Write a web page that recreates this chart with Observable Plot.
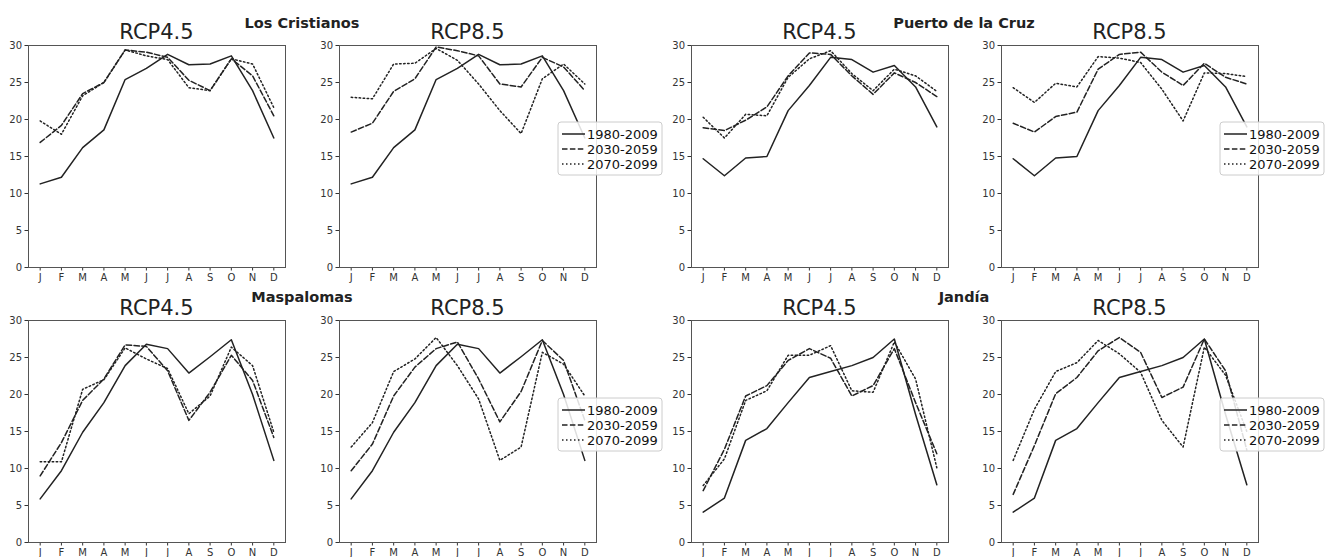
<!DOCTYPE html>
<html>
<head>
<meta charset="utf-8">
<script src="https://cdn.jsdelivr.net/npm/d3@7"></script>
<script src="https://cdn.jsdelivr.net/npm/@observablehq/plot@0.6"></script>
<style>
  html, body { margin: 0; padding: 0; background: #fff; }
  #root { position: relative; width: 1333px; height: 557px; overflow: hidden; font-family: "DejaVu Sans", sans-serif; }
  .panel { position: absolute; }
  #overlay { position: absolute; left: 0; top: 0; pointer-events: none; }
</style>
</head>
<body>
<div id="root"></div>
<script>
// ---------- data ----------
const months = ["J","F","M","A","M","J","J","A","S","O","N","D"];
const periods = ["1980-2009","2030-2059","2070-2099"];
const scenarios = ["RCP4.5","RCP8.5"];
const sites = ["Los Cristianos","Puerto de la Cruz","Maspalomas","Jandía"];

// Los Cristianos
const losCristianos_1980 = [11.3,12.2,16.2,18.6,25.4,26.9,28.8,27.4,27.5,28.6,23.9,17.5];
const losCristianos_45_2030 = [16.9,19.2,23.5,25.0,29.4,29.1,28.4,25.3,23.9,28.2,25.9,20.5];
const losCristianos_45_2070 = [19.8,18.0,23.2,25.0,29.4,28.6,28.1,24.3,23.9,28.2,27.5,21.6];
const losCristianos_85_2030 = [18.3,19.5,23.8,25.5,29.8,29.3,28.6,24.8,24.4,28.4,27.1,23.9];
const losCristianos_85_2070 = [23.0,22.8,27.5,27.6,29.6,28.0,24.8,21.2,18.1,25.5,27.5,24.8];

// Puerto de la Cruz
const puerto_1980 = [14.7,12.4,14.8,15.0,21.2,24.6,28.4,28.1,26.4,27.3,24.4,19.0];
const puerto_45_2030 = [18.9,18.5,19.9,21.7,25.9,29.0,28.8,25.9,23.4,26.3,25.0,23.1];
const puerto_45_2070 = [20.3,17.5,20.7,20.5,25.7,28.2,29.3,26.2,23.9,26.8,25.9,23.8];
const puerto_85_2030 = [19.5,18.3,20.4,21.0,26.8,28.8,29.1,26.4,24.6,27.6,25.7,24.8];
const puerto_85_2070 = [24.3,22.3,24.9,24.4,28.5,28.3,27.7,24.1,19.8,26.3,26.2,25.8];

// Maspalomas
const maspalomas_1980 = [5.9,9.7,14.9,18.9,23.9,26.8,26.2,22.9,25.1,27.4,20.0,11.1];
const maspalomas_45_2030 = [9.0,13.5,19.2,22.1,26.7,26.5,23.2,16.5,20.3,25.3,21.9,14.2];
const maspalomas_45_2070 = [10.9,10.9,20.7,22.0,26.3,24.8,23.5,17.4,19.8,26.4,23.9,14.9];
const maspalomas_85_2030 = [9.7,13.3,19.8,23.7,26.2,27.1,22.1,16.3,20.4,27.3,24.6,16.5];
const maspalomas_85_2070 = [12.9,16.2,23.1,24.8,27.7,23.9,19.4,11.1,12.9,25.7,24.1,19.8];

// Jandía
const jandia_1980 = [4.1,6.0,13.8,15.4,18.9,22.3,23.1,23.9,25.0,27.5,17.3,7.8];
const jandia_45_2030 = [7.0,12.6,19.8,21.2,24.6,26.2,24.9,19.8,21.2,26.2,18.9,12.0];
const jandia_45_2070 = [7.7,11.3,19.2,20.5,25.3,25.3,26.6,20.5,20.3,27.1,22.1,10.1];
const jandia_85_2030 = [6.5,13.1,20.1,22.3,25.9,27.7,25.7,19.6,21.0,27.5,23.2,12.5];
const jandia_85_2070 = [11.1,18.0,23.1,24.3,27.3,25.5,23.0,16.5,12.9,26.4,22.6,15.0];

const yTicks = [0,5,10,15,20,25,30];

// panel table built from the arrays
const panelData = [
  [losCristianos_1980, losCristianos_45_2030, losCristianos_45_2070],
  [losCristianos_1980, losCristianos_85_2030, losCristianos_85_2070],
  [puerto_1980, puerto_45_2030, puerto_45_2070],
  [puerto_1980, puerto_85_2030, puerto_85_2070],
  [maspalomas_1980, maspalomas_45_2030, maspalomas_45_2070],
  [maspalomas_1980, maspalomas_85_2030, maspalomas_85_2070],
  [jandia_1980, jandia_45_2030, jandia_45_2070],
  [jandia_1980, jandia_85_2030, jandia_85_2070]
];

// ---------- layout ----------
const frameLefts = [28, 339, 691, 1001];
const frameTops = [45, 320];
const FW = 257, FH = 222;
const ML = 30, MR = 6, MT = 5, MB = 28;
const dashes = [null, "5.5,2.4", "1.5,2.5"];
const root = document.getElementById("root");

panelData.forEach((series, i) => {
  const row = Math.floor(i / 4), col = i % 4;
  const rows = [];
  series.forEach((vals, s) => vals.forEach((v, m) => rows.push({m, v, period: periods[s]})));
  const chart = Plot.plot({
    width: FW + ML + MR,
    height: FH + MT + MB,
    marginLeft: ML, marginRight: MR, marginTop: MT, marginBottom: MB,
    style: {fontFamily: "DejaVu Sans, sans-serif", fontSize: "10px", color: "#333", background: "transparent"},
    x: {domain: [-0.55, 11.55]},
    y: {domain: [0, 30]},
    marks: [
      Plot.axisY({ticks: yTicks, tickSize: 3.5, tickPadding: 3, label: null, fontSize: 10}),
      Plot.axisX({ticks: d3.range(12), tickFormat: d => months[d], tickSize: 3.5, tickPadding: 3, label: null, fontSize: 10}),
      ...periods.map((p, s) => Plot.line(rows.filter(r => r.period === p), {
        x: "m", y: "v", stroke: "#222", strokeWidth: 1.5,
        strokeDasharray: dashes[s] ?? undefined
      })),
      Plot.frame({stroke: "#555", strokeWidth: 1})
    ]
  });
  const div = document.createElement("div");
  div.className = "panel";
  div.style.left = (frameLefts[col] - ML) + "px";
  div.style.top = (frameTops[row] - MT) + "px";
  div.appendChild(chart);
  root.appendChild(div);
});

// ---------- titles & legends overlay ----------
const svg = d3.select(root).append("svg").attr("id", "overlay")
  .attr("width", 1333).attr("height", 557)
  .style("font-family", "DejaVu Sans, sans-serif");

const titleBase = [39, 315];
for (let r = 0; r < 2; r++) {
  for (let c = 0; c < 4; c++) {
    svg.append("text")
      .attr("x", frameLefts[c] + FW / 2).attr("y", titleBase[r])
      .attr("text-anchor", "middle").attr("font-size", 21).attr("fill", "#222")
      .text(scenarios[c % 2]);
  }
}
const siteX = [302, 964];
const siteBase = [28, 302];
sites.forEach((s, i) => {
  svg.append("text")
    .attr("x", siteX[i % 2]).attr("y", siteBase[Math.floor(i / 2)])
    .attr("text-anchor", "middle").attr("font-size", 14.5).attr("font-weight", "bold").attr("fill", "#222")
    .text(s);
});

const legendPos = [[558, 122], [1220, 122], [558, 398], [1220, 398]];
legendPos.forEach(([lx, ly]) => {
  const g = svg.append("g");
  g.append("rect").attr("x", lx).attr("y", ly).attr("width", 104).attr("height", 53)
    .attr("rx", 3).attr("fill", "white").attr("fill-opacity", 0.85).attr("stroke", "#ccc");
  periods.forEach((p, s) => {
    const yy = ly + 12 + s * 15;
    g.append("line").attr("x1", lx + 4).attr("x2", lx + 27).attr("y1", yy).attr("y2", yy)
      .attr("stroke", "#222").attr("stroke-width", 1.5)
      .attr("stroke-dasharray", dashes[s]);
    g.append("text").attr("x", lx + 29).attr("y", yy + 4.5)
      .attr("font-size", 13).attr("fill", "#111").text(p);
  });
});
</script>
</body>
</html>
